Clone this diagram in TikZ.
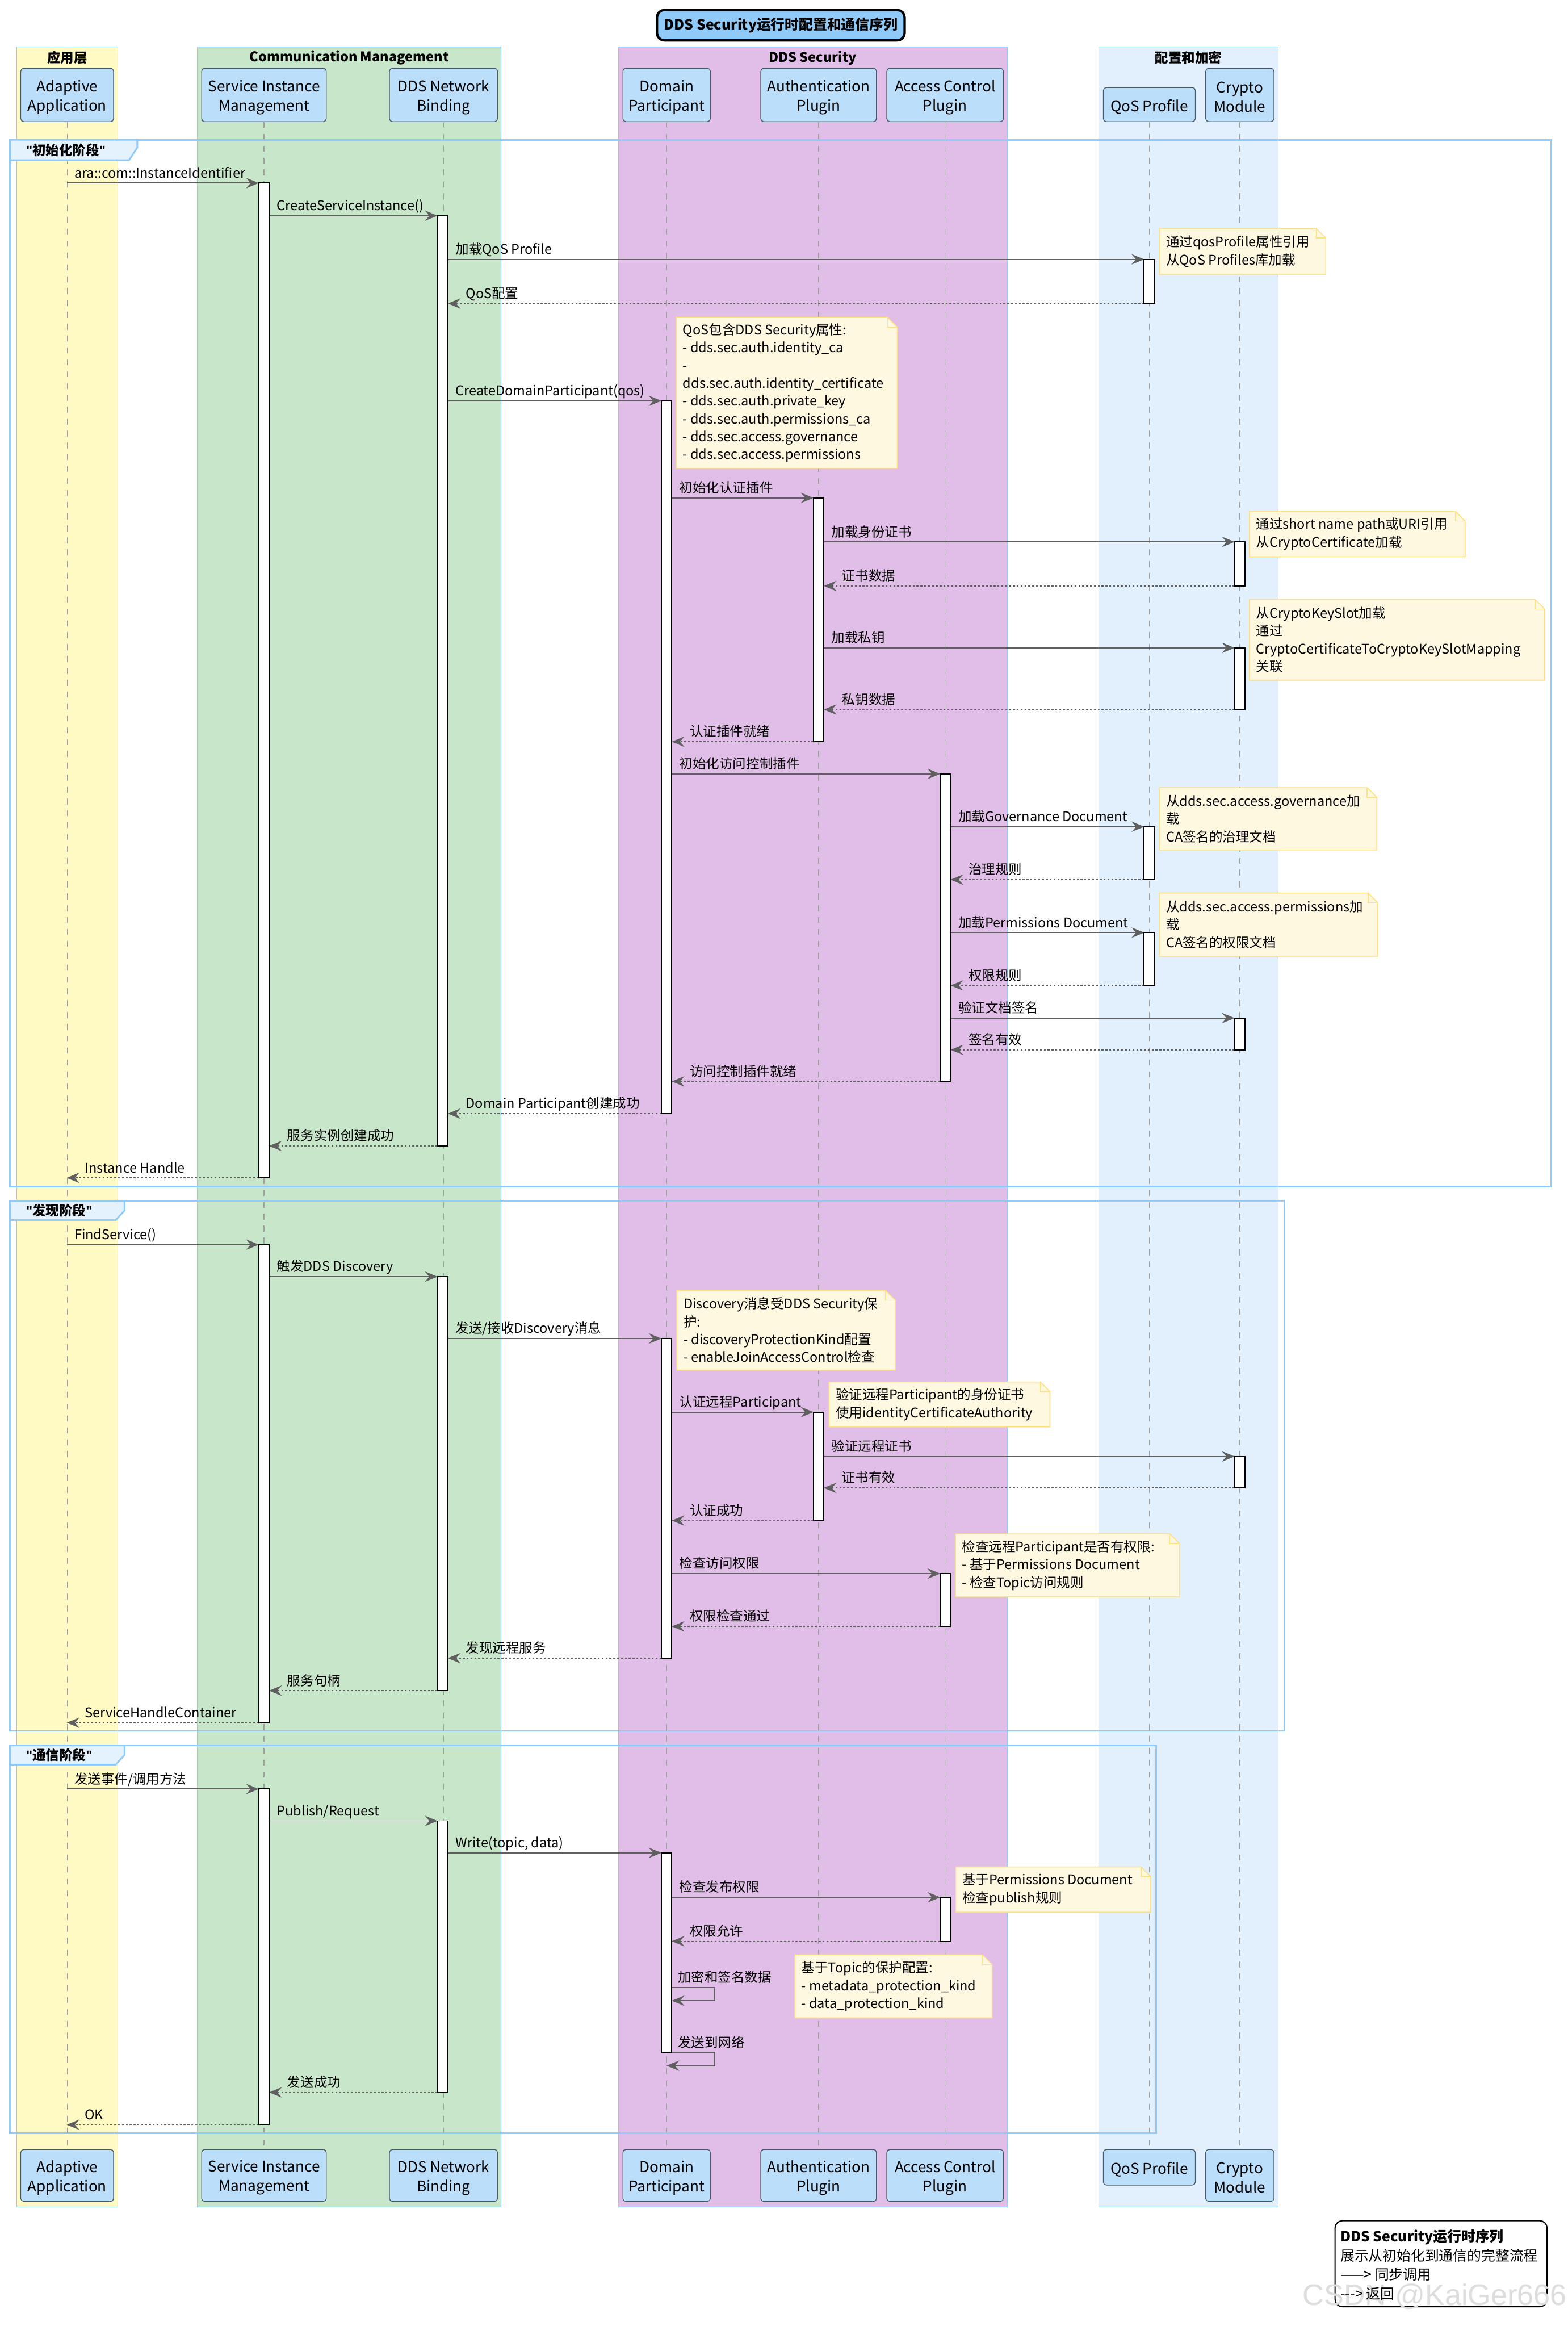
\documentclass[tikz,border=0pt]{standalone}
\usepackage{fontspec}
\setmainfont{Noto Sans CJK SC}
\newfontfamily\wmfont{Liberation Sans}
\newfontfamily\quotefont{Liberation Sans}
\usetikzlibrary{arrows.meta}

\definecolor{laneyellow}{HTML}{FFF9C4}
\definecolor{lanegreen}{HTML}{C8E6C9}
\definecolor{lanepurple}{HTML}{E1BEE7}
\definecolor{laneblue}{HTML}{E1F0FC}
\definecolor{laneborder}{HTML}{90CAF9}
\definecolor{partfill}{HTML}{BBDEFB}
\definecolor{partborder}{HTML}{455A64}
\definecolor{notefill}{HTML}{FFF8E1}
\definecolor{noteborder}{HTML}{FFE082}
\definecolor{framecol}{HTML}{90CAF9}
\definecolor{tabfill}{HTML}{E3F2FD}
\definecolor{arrowcol}{HTML}{5F5F5F}
\definecolor{lifecol}{HTML}{A0A0A0}
\definecolor{titlefill}{HTML}{90CAF9}
\definecolor{wmgray}{HTML}{DDDDDD}

\newcommand\qq{{\quotefont\bfseries"}}
\newcommand\callmsg[5]{%
  \coordinate (#1s) at (#2,#4);
  \coordinate (#1e) at (#3,#4);
  \draw[callline] (#1s) -- (#1e);
  \node[msglbl] (#1l) at ({#2+5},{#4-3.5}) {#5};}
\newcommand\retmsg[5]{%
  \coordinate (#1s) at (#2,#4);
  \coordinate (#1e) at (#3,#4);
  \draw[retline] (#1s) -- (#1e);
  \node[msglbl] (#1l) at ({#3+12},{#4-3.5}) {#5};}
\newcommand\selfmsg[6]{%
  \coordinate (#1s) at (#2,#3);
  \coordinate (#1a) at (482,#3);
  \coordinate (#1b) at (482,#4);
  \coordinate (#1e) at (#5,#4);
  \draw[callline] (#1s) -- (#1a) -- (#1b) -- (#1e);
  \node[msglbl] (#1l) at ({#2+4},{#3-3.5}) {#6};}
\newcommand\actbar[4]{%
  \pgfmathsetmacro\acth{#4-#3}%
  \node[actbox, minimum height=\acth pt] (#1) at (#2,{(#3+#4)/2}) {};}
\newcommand\drawnote[6]{%
  \draw[notebg] (#2,#3) -- ({#4-6.5},#3) -- (#4,{#3+6.5}) -- (#4,#5) -- (#2,#5) -- cycle;
  \draw[noteborder, line width=0.6pt] ({#4-6.5},#3) -- ({#4-6.5},{#3+6.5}) -- (#4,{#3+6.5});
  \node[notetxt] (#1) at ({#2+4.3},{(#3+#5)/2}) {#6};}
\newcommand\pbox[6]{%
  \pgfmathsetmacro\pbw{#4-#2}%
  \pgfmathsetmacro\pbh{#5-#3}%
  \node[partst, minimum width=\pbw pt, minimum height=\pbh pt] (#1) at ({(#2+#4)/2},{(#3+#5)/2}) {};
  \node[parttxt] (#1t) at ([yshift=-1.6pt]#1.center) {#6};}

\begin{document}
\begin{tikzpicture}[x=1pt,y=-1pt,
  lanest/.style={draw=laneborder, line width=0.4pt},
  lanetitle/.style={font=\fontsize{9}{11}\selectfont\bfseries, inner sep=0},
  partst/.style={draw=partborder, fill=partfill, rounded corners=2pt, line width=0.5pt, inner sep=0},
  parttxt/.style={align=center, font=\fontsize{10}{13}\selectfont, inner sep=0},
  life/.style={draw=lifecol, line width=0.5pt, dash pattern=on 4pt off 4pt},
  framest/.style={draw=framecol, line width=1.1pt},
  tabst/.style={draw=framecol, fill=tabfill, line width=1.1pt},
  tablbl/.style={font=\fontsize{9}{11}\selectfont\bfseries, anchor=west, inner sep=0},
  actbox/.style={draw=black, fill=white, line width=0.7pt, minimum width=7pt, inner sep=0},
  callline/.style={draw=arrowcol, line width=0.7pt, -{Stealth[length=8.5pt,width=7pt,inset=3pt,fill=arrowcol]}},
  retline/.style={callline, dash pattern=on 1.3pt off 1.3pt},
  msglbl/.style={font=\fontsize{9}{11}\selectfont, anchor=base west, inner sep=0},
  notebg/.style={draw=noteborder, fill=notefill, line width=0.6pt},
  notetxt/.style={font=\fontsize{9}{12}\selectfont, align=left, anchor=west, inner sep=0}
]
\useasboundingbox (0,0) rectangle (1057,1568);
\fill[white] (0,0) rectangle (1057,1568);

% ---------- lanes ----------
\fill[laneyellow] (11.2,31.6) rectangle (79.4,1487.6);
\draw[lanest] (11.2,31.6) rectangle (79.4,1487.6);
\fill[lanegreen] (132.9,31.6) rectangle (338,1487.6);
\draw[lanest] (132.9,31.6) rectangle (338,1487.6);
\fill[lanepurple] (416.9,31.6) rectangle (679.3,1487.6);
\draw[lanest] (416.9,31.6) rectangle (679.3,1487.6);
\fill[laneblue] (741,31.6) rectangle (861.8,1487.6);
\draw[lanest] (741,31.6) rectangle (861.8,1487.6);
\node[lanetitle] (g1) at (45.3,39) {应用层};
\node[lanetitle] (g2) at (235.5,39) {Communication Management};
\node[lanetitle] (g3) at (548,39) {DDS Security};
\node[lanetitle] (g4) at (801.4,39) {配置和加密};

% ---------- participants ----------
\pbox{pA}{14}{46}{76.6}{82}{Adaptive\\Application}
\pbox{pS}{136}{46}{220}{82}{Service Instance\\Management}
\pbox{pN}{262.6}{46}{335.5}{82}{DDS Network\\Binding}
\pbox{pD}{420}{46}{479}{82}{Domain\\Participant}
\pbox{pU}{513}{46}{591}{82}{Authentication\\Plugin}
\pbox{pC}{598}{46}{676.6}{82}{Access Control\\Plugin}
\pbox{pQ}{744}{59}{806}{82}{QoS Profile}
\pbox{pK}{813}{46}{859}{82}{Crypto\\Module}
\pbox{pAb}{14}{1449}{76.6}{1484}{Adaptive\\Application}
\pbox{pSb}{136}{1449}{220}{1484}{Service Instance\\Management}
\pbox{pNb}{262.6}{1449}{335.5}{1484}{DDS Network\\Binding}
\pbox{pDb}{420}{1449}{479}{1484}{Domain\\Participant}
\pbox{pUb}{513}{1449}{591}{1484}{Authentication\\Plugin}
\pbox{pCb}{598}{1449}{676.6}{1484}{Access Control\\Plugin}
\pbox{pQb}{744}{1449}{806}{1473}{QoS Profile}
\pbox{pKb}{813}{1449}{859}{1484}{Crypto\\Module}

% ---------- lifelines ----------
\draw[life] (pA.south) -- (pAb.north);
\draw[life] (pS.south) -- (pSb.north);
\draw[life] (pN.south) -- (pNb.north);
\draw[life] (pD.south) -- (pDb.north);
\draw[life] (pU.south) -- (pUb.north);
\draw[life] (pC.south) -- (pCb.north);
\draw[life] (pQ.south) -- (pQb.north);
\draw[life] (pK.south) -- (pKb.north);

% ---------- phase frames ----------
\draw[framest] (6.8,94.2) rectangle (1046,800);
\draw[tabst] (6.8,94.2) -- (92.6,94.2) -- (92.6,99.5) -- (87,108) -- (6.8,108) -- cycle;
\node[tablbl] (t1) at (17.5,101.2) {\qq 初始化阶段\qq};
\draw[framest] (6.8,809.6) rectangle (866,1166.8);
\draw[tabst] (6.8,809.6) -- (84,809.6) -- (84,816) -- (78,822.5) -- (6.8,822.5) -- cycle;
\node[tablbl] (t2) at (17.5,816) {\qq 发现阶段\qq};
\draw[framest] (6.8,1176.6) rectangle (779.5,1437.9);
\draw[tabst] (6.8,1176.6) -- (84,1176.6) -- (84,1183) -- (78,1189.6) -- (6.8,1189.6) -- cycle;
\node[tablbl] (t3) at (17.5,1183.1) {\qq 通信阶段\qq};

% ---------- messages: init ----------
\callmsg{m1}{45}{174.5}{123.4}{ara::com::InstanceIdentifier}
\callmsg{m2}{181.5}{295}{145.4}{CreateServiceInstance()}
\callmsg{m3}{302}{771.5}{174.8}{加载QoS Profile}
\retmsg{m4}{771.5}{302}{204.6}{QoS配置}
\callmsg{m5}{302}{446}{270.2}{CreateDomainParticipant(qos)}
\callmsg{m6}{453}{548.5}{335.6}{初始化认证插件}
\callmsg{m7}{555.5}{832.5}{365.3}{加载身份证书}
\retmsg{m8}{832.5}{555.5}{395}{证书数据}
\callmsg{m9}{555.5}{832.5}{436.7}{加载私钥}
\retmsg{m10}{832.5}{555.5}{478.3}{私钥数据}
\retmsg{m11}{548.5}{453}{500}{认证插件就绪}
\callmsg{m12}{453}{634}{521.7}{初始化访问控制插件}
\callmsg{m13}{641}{771.5}{557.3}{加载Governance Document}
\retmsg{m14}{771.5}{641}{593}{治理规则}
\callmsg{m15}{641}{771.5}{628.7}{加载Permissions Document}
\retmsg{m16}{771.5}{641}{664.3}{权限规则}
\callmsg{m17}{641}{832.5}{686.3}{验证文档签名}
\retmsg{m18}{832.5}{641}{707.7}{签名有效}
\retmsg{m19}{634}{453}{729}{访问控制插件就绪}
\retmsg{m20}{446}{302}{750.7}{Domain Participant创建成功}
\retmsg{m21}{295}{181.5}{772.5}{服务实例创建成功}
\retmsg{m22}{174.5}{45}{794}{Instance Handle}

% ---------- messages: discovery ----------
\callmsg{d1}{45}{174.5}{839}{FindService()}
\callmsg{d2}{181.5}{295}{860.6}{触发DDS Discovery}
\callmsg{d3}{302}{446}{902.3}{发送/接收Discovery消息}
\callmsg{d4}{453}{548.5}{951.9}{认证远程Participant}
\callmsg{d5}{555.5}{832.5}{981.8}{验证远程证书}
\retmsg{d6}{832.5}{555.5}{1003}{证书有效}
\retmsg{d7}{548.5}{453}{1025}{认证成功}
\callmsg{d8}{453}{634}{1060.8}{检查访问权限}
\retmsg{d9}{634}{453}{1096.4}{权限检查通过}
\retmsg{d10}{446}{302}{1117.8}{发现远程服务}
\retmsg{d11}{295}{181.5}{1139.7}{服务句柄}
\retmsg{d12}{174.5}{45}{1161.3}{ServiceHandleContainer}

% ---------- messages: communication ----------
\callmsg{c1}{45}{174.5}{1206}{发送事件/调用方法}
\callmsg{c2}{181.5}{295}{1227.5}{Publish/Request}
\callmsg{c3}{302}{446}{1249}{Write(topic, data)}
\callmsg{c4}{453}{634}{1279}{检查发布权限}
\retmsg{c5}{634}{453}{1308.6}{权限允许}
\selfmsg{c6}{453}{1339.7}{1348.7}{453}{加密和签名数据}
\selfmsg{c7}{453}{1383.6}{1392.5}{449.5}{发送到网络}
\retmsg{c8}{295}{181.5}{1410.5}{发送成功}
\retmsg{c9}{174.5}{45}{1432.3}{OK}

% ---------- activations ----------
\actbar{aS1}{178}{123.4}{794}
\actbar{aN1}{298.5}{145.4}{772.5}
\actbar{aQ1}{775}{174.8}{204.6}
\actbar{aD1}{449.5}{270.2}{750.7}
\actbar{aU1}{552}{335.6}{500}
\actbar{aK1}{836}{365.3}{395}
\actbar{aK2}{836}{436.7}{478.3}
\actbar{aC1}{637.5}{521.7}{729}
\actbar{aQ2}{775}{557.3}{593}
\actbar{aQ3}{775}{628.7}{664.3}
\actbar{aK3}{836}{686.3}{707.7}
\actbar{aS2}{178}{839}{1161.3}
\actbar{aN2}{298.5}{860.6}{1139.7}
\actbar{aD2}{449.5}{902.3}{1117.8}
\actbar{aU2}{552}{951.9}{1025}
\actbar{aK4}{836}{981.8}{1003}
\actbar{aC2}{637.5}{1060.8}{1096.4}
\actbar{aS3}{178}{1206}{1432.3}
\actbar{aN3}{298.5}{1227.5}{1410.5}
\actbar{aD3}{449.5}{1249}{1384}
\actbar{aC3}{637.5}{1279}{1308.6}

% ---------- notes ----------
\drawnote{n1}{781.8}{154}{894}{185}{通过qosProfile属性引用\\从QoS Profiles库加载}
\drawnote{n2}{456}{214}{605}{315.8}{QoS包含DDS Security属性:\\- dds.sec.auth.identity\_ca\\-\\dds.sec.auth.identity\_certificate\\- dds.sec.auth.private\_key\\- dds.sec.auth.permissions\_ca\\- dds.sec.access.governance\\- dds.sec.access.permissions}
\drawnote{n3}{842.5}{344.8}{988}{375.3}{通过short name path或URI引用\\从CryptoCertificate加载}
\drawnote{n4}{842.5}{404}{1041.6}{458.5}{从CryptoKeySlot加载\\通过\\CryptoCertificateToCryptoKeySlotMapping\\关联}
\drawnote{n5}{781.8}{531}{928.4}{573}{从dds.sec.access.governance加\\载\\CA签名的治理文档}
\drawnote{n6}{781.8}{602}{929}{644.6}{从dds.sec.access.permissions加\\载\\CA签名的权限文档}
\drawnote{n7}{456.4}{870}{603.7}{923.7}{Discovery消息受DDS Security保\\护:\\- discoveryProtectionKind配置\\- enableJoinAccessControl检查}
\drawnote{n8}{559}{931.6}{708}{961.9}{验证远程Participant的身份证书\\使用identityCertificateAuthority}
\drawnote{n9}{644.3}{1034}{795.3}{1076.4}{检查远程Participant是否有权限:\\- 基于Permissions Document\\- 检查Topic访问规则}
\drawnote{n10}{644.5}{1258.5}{775.9}{1289}{基于Permissions Document\\检查publish规则}
\drawnote{n11}{536}{1317.8}{669}{1360.3}{基于Topic的保护配置:\\- metadata\_protection\_kind\\- data\_protection\_kind}

% ---------- title ----------
\node[draw=black, line width=1.6pt, fill=titlefill, rounded corners=5pt, minimum width=167pt, minimum height=20.5pt, inner sep=0, font=\fontsize{9.5}{11}\selectfont\bfseries] (title) at (526.5,17) {DDS Security运行时配置和通信序列};

% ---------- legend ----------
\node[draw=black, line width=0.8pt, fill=white, rounded corners=5pt, minimum width=143pt, minimum height=58pt, inner sep=0] (legendbox) at (971.7,1526) {};
\node[text=wmgray, inner sep=0, font=\wmfont\fontsize{20}{20}\selectfont] (wm) at (967.5,1548) {CSDN @KaiGer666};
\node[anchor=west, align=left, inner sep=0, font=\fontsize{9.5}{12.8}\selectfont] (legendtxt) at (903.7,1526.7) {\textbf{DDS Security运行时序列}\\展示从初始化到通信的完整流程\\——> 同步调用\\-{}-{}-> 返回};
\end{tikzpicture}
\end{document}
